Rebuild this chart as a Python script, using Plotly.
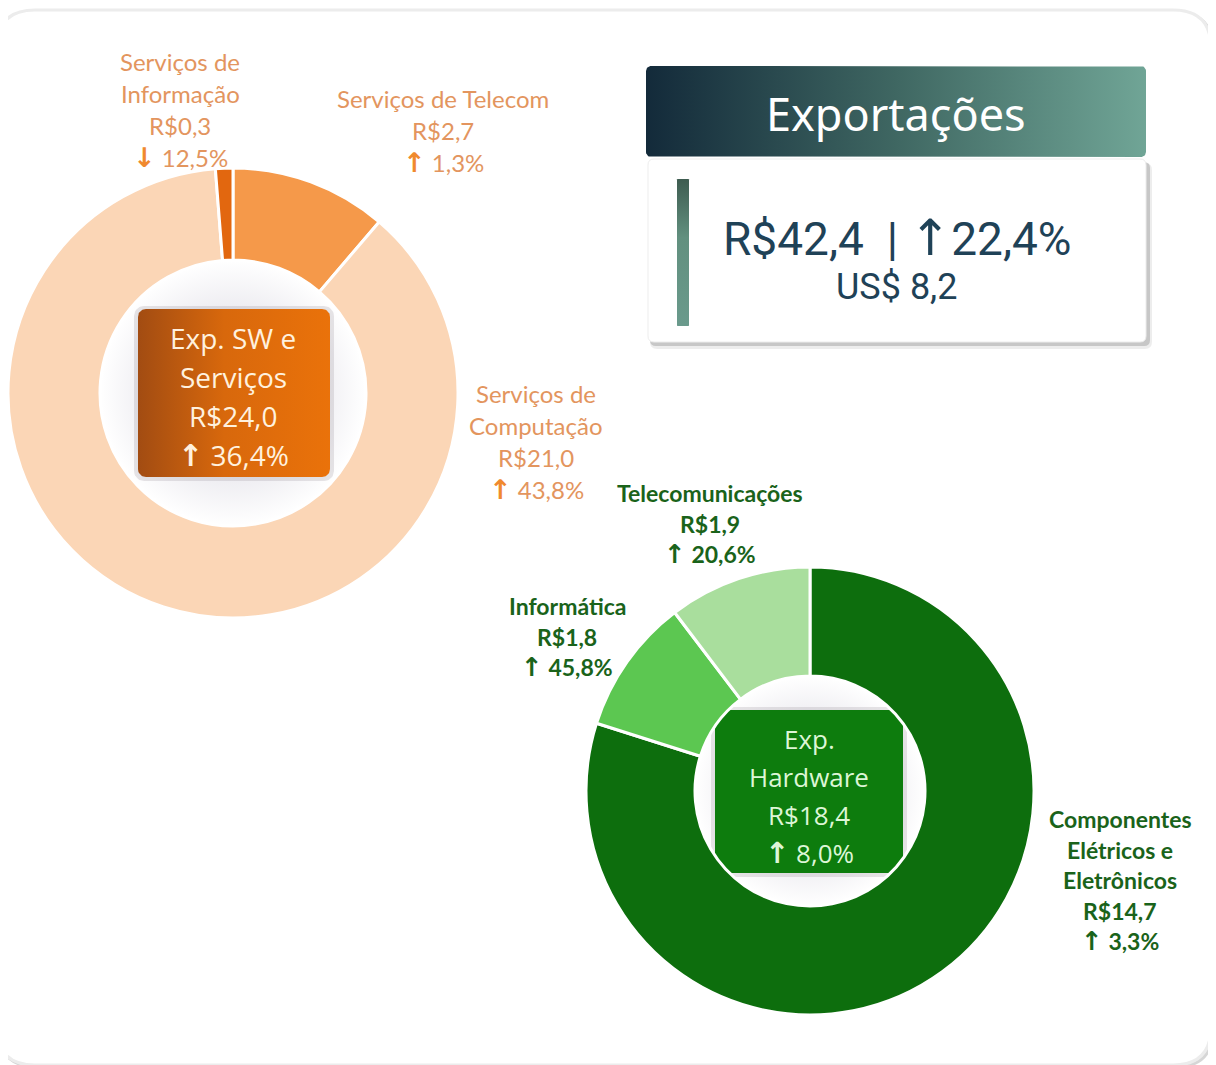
import math
import plotly.graph_objects as go

# ---------------- data ----------------
sw_labels = ["Serviços de Telecom", "Serviços de Computação", "Serviços de Informação"]
sw_values = [2.7, 21.0, 0.3]
sw_growth = [1.3, 43.8, -12.5]
sw_total = 24.0
sw_total_growth = 36.4

hw_labels = ["Componentes Elétricos e Eletrônicos", "Informática", "Telecomunicações"]
hw_values = [14.7, 1.8, 1.9]
hw_growth = [3.3, 45.8, 20.6]
hw_total = 18.4
hw_total_growth = 8.0

exp_total = 42.4
exp_growth = 22.4
exp_usd = 8.2

# ---------------- styles ----------------
W, H = 1216, 1065
OFF = 8  # page body margin
sw_colors = ["#F5994A", "#FBD6B6", "#E2670F"]
hw_colors = ["#0D6E0D", "#5CC751", "#A9DE9D"]
ORANGE_TXT = "#E3955E"
ORANGE_ARW = "#F0892E"
GREEN_TXT = "#1A631A"
NAVY = "#1F4257"


def brl(v):
    return ("R$%.1f" % v).replace(".", ",")


def pct(v):
    return ("%.1f%%" % abs(v)).replace(".", ",")


def arrow(v, color=None, size=None):
    ch = "↑" if v >= 0 else "↓"
    st = "font-family:'DejaVu Sans';font-weight:bold;"
    if color:
        st += f"color:{color};"
    if size:
        st += f"font-size:{size}px;"
    return f"<span style=\"{st}\">{ch}</span>"


def rr_path(x0, y0, x1, y1, r):
    return (f"M{x0+r},{y0} L{x1-r},{y0} Q{x1},{y0} {x1},{y0+r} L{x1},{y1-r} "
            f"Q{x1},{y1} {x1-r},{y1} L{x0+r},{y1} Q{x0},{y1} {x0},{y1-r} "
            f"L{x0},{y0+r} Q{x0},{y0} {x0+r},{y0} Z")


def rr_poly(x0, y0, x1, y1, r, n=10):
    xs, ys = [], []
    corners = [((x0 + r, y0 + r), 180), ((x1 - r, y0 + r), 270),
               ((x1 - r, y1 - r), 0), ((x0 + r, y1 - r), 90)]
    for (cx, cy), a0 in corners:
        for i in range(n + 1):
            a = math.radians(a0 + 90 * i / n)
            xs.append(cx + r * math.cos(a))
            ys.append(cy + r * math.sin(a))
    xs.append(xs[0]); ys.append(ys[0])
    return xs, ys


def circle_poly(cx, cy, r, n=120):
    xs = [cx + r * math.cos(2 * math.pi * i / n) for i in range(n + 1)]
    ys = [cy + r * math.sin(2 * math.pi * i / n) for i in range(n + 1)]
    return xs, ys


fig = go.Figure()


def grad_fill(xs, ys, gtype, scale):
    fig.add_trace(go.Scatter(x=xs, y=ys, mode="lines", fill="toself",
                             line=dict(width=0, color="rgba(0,0,0,0)"),
                             fillgradient=dict(type=gtype, colorscale=scale),
                             hoverinfo="skip", showlegend=False))


def solid_fill(xs, ys, color):
    fig.add_trace(go.Scatter(x=xs, y=ys, mode="lines", fill="toself",
                             line=dict(width=0, color="rgba(0,0,0,0)"),
                             fillcolor=color, hoverinfo="skip", showlegend=False))


# donut geometry (page pixels): centre, outer radius, hole radius
SW_C, SW_R, SW_HR = (233, 393), 225, 133
HW_C, HW_R, HW_HR = (810, 791), 224, 115

grad_fill(*circle_poly(SW_C[0], SW_C[1], SW_HR), "radial",
          [[0, "#E3E2E8"], [0.6, "#ECEBF0"], [1, "#FFFFFF"]])
grad_fill(*circle_poly(HW_C[0], HW_C[1], HW_HR), "radial",
          [[0, "#E3E2E8"], [0.6, "#ECEBF0"], [1, "#FFFFFF"]])

# center boxes
solid_fill(*rr_poly(134, 306, 334, 481, 10), "rgba(120,110,120,0.18)")
grad_fill(*rr_poly(138, 309, 330, 477, 8), "horizontal",
          [[0, "#A24C12"], [0.45, "#D8680C"], [1, "#EA720A"]])
solid_fill(*rr_poly(711, 707, 907, 877, 10), "rgba(120,110,120,0.18)")
solid_fill(*rr_poly(715, 710, 903, 873, 8), "#0D7C0D")

# header gradient
grad_fill(*rr_poly(646, 66, 1146, 157, 5), "horizontal",
          [[0, "#132A3A"], [0.5, "#3F6762"], [1, "#70A596"]])
# card accent bar
grad_fill(*rr_poly(677, 179, 689, 326, 0.5), "vertical",
          [[0, "#6A9A8C"], [0.6, "#62907F"], [1, "#3E5C50"]])


# ---- donuts ----
def dom(c, r):
    x0 = max(0.0, (c[0] - r - OFF) / W)
    x1 = min(1.0, (c[0] + r - OFF) / W)
    y0 = max(0.0, 1 - (c[1] + r - OFF) / H)
    y1 = min(1.0, 1 - (c[1] - r - OFF) / H)
    return dict(x=[x0, x1], y=[y0, y1])


fig.add_trace(go.Pie(labels=sw_labels, values=sw_values, hole=SW_HR / SW_R, sort=False,
                     direction="clockwise", rotation=0, textinfo="none",
                     marker=dict(colors=sw_colors, line=dict(color="#FFFFFF", width=3)),
                     domain=dom(SW_C, SW_R), showlegend=False, hoverinfo="label+value"))
fig.add_trace(go.Pie(labels=hw_labels, values=hw_values, hole=HW_HR / HW_R, sort=False,
                     direction="clockwise", rotation=0, textinfo="none",
                     marker=dict(colors=hw_colors, line=dict(color="#FFFFFF", width=3)),
                     domain=dom(HW_C, HW_R), showlegend=False, hoverinfo="label+value"))

# ---- shapes (frame, card) ----
shapes = [
    dict(type="path", path=rr_path(-1, 12, 1213, 1067, 38), xref="x", yref="y",
         line=dict(color="#D6D6D6", width=3), layer="below"),
    dict(type="path", path=rr_path(-3, 10, 1211, 1065, 38), xref="x", yref="y",
         line=dict(color="#ECECEC", width=3), fillcolor="#FFFFFF", layer="below"),
    dict(type="path", path=rr_path(650, 163, 1152, 349, 7), xref="x", yref="y",
         line=dict(width=0), fillcolor="rgba(0,0,0,0.07)", layer="below"),
    dict(type="path", path=rr_path(650, 162, 1150, 346, 6), xref="x", yref="y",
         line=dict(width=0), fillcolor="rgba(0,0,0,0.16)", layer="below"),
    dict(type="path", path=rr_path(648, 159, 1146, 342, 6), xref="x", yref="y",
         line=dict(color="#EDEDED", width=1), fillcolor="#FFFFFF", layer="below"),
]

# ---- annotations ----
ann = []


def txt(x, y, s, size, color, family="Lato", **kw):
    ann.append(dict(x=x, y=y, xref="x", yref="y", text=s, showarrow=False,
                    xanchor="center", yanchor="middle",
                    font=dict(size=size, color=color, family=family), **kw))


def label_block(cx, y0, dy, name_lines, value, growth, size, color, arrow_color, bold=False):
    lines = list(name_lines) + [brl(value),
                                f"{arrow(growth, arrow_color, size + 3)} {pct(growth)}"]
    for i, s in enumerate(lines):
        t = f"<b>{s}</b>" if bold else s
        txt(cx, y0 + i * dy, t, size, color)


sw_lines = {
    "Serviços de Telecom": ["Serviços de Telecom"],
    "Serviços de Computação": ["Serviços de", "Computação"],
    "Serviços de Informação": ["Serviços de", "Informação"],
}
sw_pos = {
    "Serviços de Telecom": (443, 98),
    "Serviços de Computação": (536, 393),
    "Serviços de Informação": (180, 61),
}
for lab, v, g in zip(sw_labels, sw_values, sw_growth):
    x, y = sw_pos[lab]
    label_block(x, y, 32, sw_lines[lab], v, g, 24, ORANGE_TXT, ORANGE_ARW)

hw_lines = {
    "Componentes Elétricos e Eletrônicos": ["Componentes", "Elétricos e", "Eletrônicos"],
    "Informática": ["Informática"],
    "Telecomunicações": ["Telecomunicações"],
}
hw_pos = {
    "Componentes Elétricos e Eletrônicos": (1120, 819),
    "Informática": (567, 606),
    "Telecomunicações": (710, 493),
}
for lab, v, g in zip(hw_labels, hw_values, hw_growth):
    x, y = hw_pos[lab]
    label_block(x, y, 30.5, hw_lines[lab], v, g, 23, GREEN_TXT, GREEN_TXT, bold=True)

# center box texts
for i, s in enumerate(["Exp. SW e", "Serviços", brl(sw_total),
                       f"{arrow(sw_total_growth, None, 30)} {pct(sw_total_growth)}"]):
    txt(233, 338 + i * 39, s, 28, "#FFF1DE", family="Open Sans")
for i, s in enumerate(["Exp.", "Hardware", brl(hw_total),
                       f"{arrow(hw_total_growth, None, 29)} {pct(hw_total_growth)}"]):
    txt(809, 739 + i * 38, s, 26, "#DDF6D6", family="Open Sans")

# header & card
txt(896, 113, "Exportações", 45, "#FFFFFF", family="Noto Sans")
big_arrow = "<span style=\"font-family:'DejaVu Sans';font-size:50px;\">↑</span>"
txt(897, 238, f"{brl(exp_total)}  | {big_arrow}{pct(exp_growth)}", 46, NAVY, family="Roboto")
txt(896, 287, ("US$ %.1f" % exp_usd).replace(".", ","), 36, NAVY, family="Roboto")

fig.update_layout(
    width=W, height=H, autosize=False,
    margin=dict(l=0, r=0, t=0, b=0, pad=0),
    paper_bgcolor="#FFFFFF", plot_bgcolor="rgba(0,0,0,0)",
    xaxis=dict(range=[OFF, W + OFF], visible=False, fixedrange=True, domain=[0, 1]),
    yaxis=dict(range=[H + OFF, OFF], visible=False, fixedrange=True, domain=[0, 1]),
    shapes=shapes, annotations=ann, showlegend=False,
)

fig.write_html("out.html")
